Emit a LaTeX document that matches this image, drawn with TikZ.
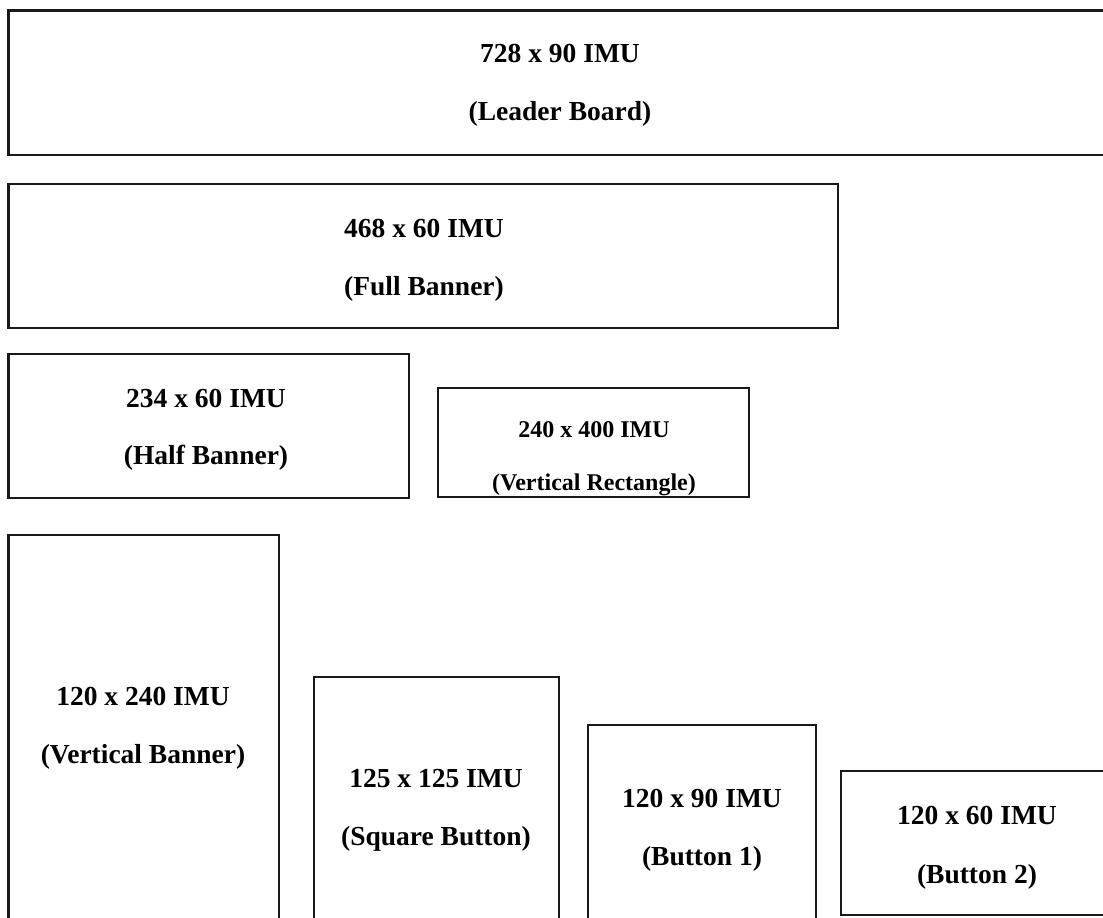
\documentclass[tikz,border=0pt]{standalone}
\usepackage{fontspec}
\setmainfont{Liberation Serif}
\usetikzlibrary{positioning}
\tikzset{
  adbox/.style={draw=black!90, line width=2.2pt},
  adsize/.style={anchor=base, inner sep=0pt, font=\fontsize{27.5}{33}\selectfont\bfseries},
  adsmall/.style={anchor=base, inner sep=0pt, font=\fontsize{24}{29}\selectfont\bfseries},
}

\begin{document}
\begin{tikzpicture}[x=1pt, y=-1pt]
  \useasboundingbox (0,0) rectangle (1103,918);
  \clip (0,0) rectangle (1103,918);

  % banner boxes
  \draw[adbox] (8.5,10.5) rectangle (1115,155);
  \draw[adbox] (8.5,184) rectangle (838,328);
  \draw[adbox] (8.5,354) rectangle (409,498);
  \draw[adbox] (438,388) rectangle (749,497);

  % button boxes
  \draw[adbox] (8.5,535) rectangle (279,930);
  \draw[adbox] (314,677) rectangle (559,930);
  \draw[adbox] (588,725) rectangle (816,930);
  \draw[adbox] (841,771) rectangle (1115,915);

  \node[adsize] (leadsize) at (560,62) {728 x 90 IMU};
  \node[adsize] (leadname) at (560,120) {(Leader Board)};
  \node[adsize] (fullsize) at (424,237) {468 x 60 IMU};
  \node[adsize] (fullname) at (424,295) {(Full Banner)};
  \node[adsize] (halfsize) at (206,407) {234 x 60 IMU};
  \node[adsize] (halfname) at (206,464) {(Half Banner)};
  \begin{scope}
    \clip (438,388) rectangle (749,497);
    \node[adsmall] (vrectsize) at (594,437) {240 x 400 IMU};
    \node[adsmall] (vrectname) at (594,490) {(Vertical Rectangle)};
  \end{scope}
  \node[adsize] (vbansize) at (143,705) {120 x 240 IMU};
  \node[adsize] (vbanname) at (143,763) {(Vertical Banner)};
  \node[adsize] (sqsize) at (436,787) {125 x 125 IMU};
  \node[adsize] (sqname) at (436,845) {(Square Button)};
  \node[adsize] (btnonesize) at (702,807) {120 x 90 IMU};
  \node[adsize] (btnonename) at (702,865) {(Button 1)};
  \node[adsize] (btntwosize) at (977,824) {120 x 60 IMU};
  \node[adsize] (btntwoname) at (977,883) {(Button 2)};
\end{tikzpicture}
\end{document}
